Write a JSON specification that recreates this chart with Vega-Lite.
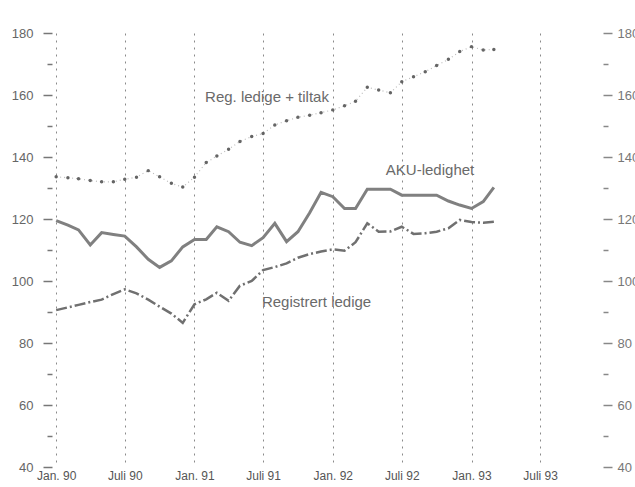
{
  "$schema": "https://vega.github.io/schema/vega-lite/v6.json",
  "autosize": {"type": "none"},
  "width": 551,
  "height": 434,
  "padding": {"left": 52, "top": 33, "right": 32, "bottom": 20},
  "background": "white",
  "config": {
    "view": {"stroke": null},
    "font": "Liberation Sans",
    "axis": {"labelFont": "Liberation Sans", "labelColor": "#555"}
  },
  "datasets": {
    "series": [
      {"d":"1990-01-01","s":"AKU","v":119.5},{"d":"1990-02-01","s":"AKU","v":118},{"d":"1990-03-01","s":"AKU","v":116.5},{"d":"1990-04-01","s":"AKU","v":111.6},{"d":"1990-05-01","s":"AKU","v":115.6},{"d":"1990-06-01","s":"AKU","v":115},{"d":"1990-07-01","s":"AKU","v":114.5},{"d":"1990-08-01","s":"AKU","v":111},{"d":"1990-09-01","s":"AKU","v":107},{"d":"1990-10-01","s":"AKU","v":104.4},{"d":"1990-11-01","s":"AKU","v":106.5},{"d":"1990-12-01","s":"AKU","v":111},
      {"d":"1991-01-01","s":"AKU","v":113.4},{"d":"1991-02-01","s":"AKU","v":113.4},{"d":"1991-03-01","s":"AKU","v":117.5},{"d":"1991-04-01","s":"AKU","v":115.9},{"d":"1991-05-01","s":"AKU","v":112.5},{"d":"1991-06-01","s":"AKU","v":111.4},{"d":"1991-07-01","s":"AKU","v":114},{"d":"1991-08-01","s":"AKU","v":118.6},{"d":"1991-09-01","s":"AKU","v":112.7},{"d":"1991-10-01","s":"AKU","v":115.9},{"d":"1991-11-01","s":"AKU","v":122},{"d":"1991-12-01","s":"AKU","v":128.6},
      {"d":"1992-01-01","s":"AKU","v":127.2},{"d":"1992-02-01","s":"AKU","v":123.4},{"d":"1992-03-01","s":"AKU","v":123.4},{"d":"1992-04-01","s":"AKU","v":129.6},{"d":"1992-05-01","s":"AKU","v":129.6},{"d":"1992-06-01","s":"AKU","v":129.6},{"d":"1992-07-01","s":"AKU","v":127.7},{"d":"1992-08-01","s":"AKU","v":127.7},{"d":"1992-09-01","s":"AKU","v":127.7},{"d":"1992-10-01","s":"AKU","v":127.7},{"d":"1992-11-01","s":"AKU","v":125.8},{"d":"1992-12-01","s":"AKU","v":124.5},
      {"d":"1993-01-01","s":"AKU","v":123.4},{"d":"1993-02-01","s":"AKU","v":125.6},{"d":"1993-03-01","s":"AKU","v":130.2},
      {"d":"1990-01-01","s":"Reg","v":90.6},{"d":"1990-02-01","s":"Reg","v":91.5},{"d":"1990-03-01","s":"Reg","v":92.3},{"d":"1990-04-01","s":"Reg","v":93.2},{"d":"1990-05-01","s":"Reg","v":94},{"d":"1990-06-01","s":"Reg","v":95.8},{"d":"1990-07-01","s":"Reg","v":97.3},{"d":"1990-08-01","s":"Reg","v":96},{"d":"1990-09-01","s":"Reg","v":94},{"d":"1990-10-01","s":"Reg","v":91.7},{"d":"1990-11-01","s":"Reg","v":89.5},{"d":"1990-12-01","s":"Reg","v":86.5},
      {"d":"1991-01-01","s":"Reg","v":92.5},{"d":"1991-02-01","s":"Reg","v":94.1},{"d":"1991-03-01","s":"Reg","v":96.2},{"d":"1991-04-01","s":"Reg","v":93.6},{"d":"1991-05-01","s":"Reg","v":98.5},{"d":"1991-06-01","s":"Reg","v":100},{"d":"1991-07-01","s":"Reg","v":103.5},{"d":"1991-08-01","s":"Reg","v":104.5},{"d":"1991-09-01","s":"Reg","v":105.7},{"d":"1991-10-01","s":"Reg","v":107.5},{"d":"1991-11-01","s":"Reg","v":108.7},{"d":"1991-12-01","s":"Reg","v":109.5},
      {"d":"1992-01-01","s":"Reg","v":110.2},{"d":"1992-02-01","s":"Reg","v":109.8},{"d":"1992-03-01","s":"Reg","v":112.5},{"d":"1992-04-01","s":"Reg","v":118.6},{"d":"1992-05-01","s":"Reg","v":115.9},{"d":"1992-06-01","s":"Reg","v":116},{"d":"1992-07-01","s":"Reg","v":117.5},{"d":"1992-08-01","s":"Reg","v":115.2},{"d":"1992-09-01","s":"Reg","v":115.4},{"d":"1992-10-01","s":"Reg","v":115.9},{"d":"1992-11-01","s":"Reg","v":117},{"d":"1992-12-01","s":"Reg","v":119.7},
      {"d":"1993-01-01","s":"Reg","v":119},{"d":"1993-02-01","s":"Reg","v":118.8},{"d":"1993-03-01","s":"Reg","v":119.1},
      {"d":"1990-01-01","s":"Tiltak","v":133.6},{"d":"1990-02-01","s":"Tiltak","v":133.3},{"d":"1990-03-01","s":"Tiltak","v":133},{"d":"1990-04-01","s":"Tiltak","v":132.4},{"d":"1990-05-01","s":"Tiltak","v":132},{"d":"1990-06-01","s":"Tiltak","v":132},{"d":"1990-07-01","s":"Tiltak","v":132.8},{"d":"1990-08-01","s":"Tiltak","v":133.5},{"d":"1990-09-01","s":"Tiltak","v":135.6},{"d":"1990-10-01","s":"Tiltak","v":133.6},{"d":"1990-11-01","s":"Tiltak","v":131.5},{"d":"1990-12-01","s":"Tiltak","v":130.3},
      {"d":"1991-01-01","s":"Tiltak","v":133.5},{"d":"1991-02-01","s":"Tiltak","v":138.2},{"d":"1991-03-01","s":"Tiltak","v":140.3},{"d":"1991-04-01","s":"Tiltak","v":142.5},{"d":"1991-05-01","s":"Tiltak","v":145},{"d":"1991-06-01","s":"Tiltak","v":146.6},{"d":"1991-07-01","s":"Tiltak","v":147.6},{"d":"1991-08-01","s":"Tiltak","v":150.3},{"d":"1991-09-01","s":"Tiltak","v":151.7},{"d":"1991-10-01","s":"Tiltak","v":152.8},{"d":"1991-11-01","s":"Tiltak","v":153.5},{"d":"1991-12-01","s":"Tiltak","v":154.3},
      {"d":"1992-01-01","s":"Tiltak","v":155.2},{"d":"1992-02-01","s":"Tiltak","v":156.5},{"d":"1992-03-01","s":"Tiltak","v":158},{"d":"1992-04-01","s":"Tiltak","v":162.5},{"d":"1992-05-01","s":"Tiltak","v":161.6},{"d":"1992-06-01","s":"Tiltak","v":160.7},{"d":"1992-07-01","s":"Tiltak","v":164.3},{"d":"1992-08-01","s":"Tiltak","v":165.9},{"d":"1992-09-01","s":"Tiltak","v":167.5},{"d":"1992-10-01","s":"Tiltak","v":169.5},{"d":"1992-11-01","s":"Tiltak","v":171.5},{"d":"1992-12-01","s":"Tiltak","v":174},
      {"d":"1993-01-01","s":"Tiltak","v":175.6},{"d":"1993-02-01","s":"Tiltak","v":174.5},{"d":"1993-03-01","s":"Tiltak","v":174.7}
    ],
    "labels": [
      {"d":"1991-01-29","v":159.2,"t":"Reg. ledige + tiltak"},
      {"d":"1992-05-20","v":135.8,"t":"AKU-ledighet"},
      {"d":"1991-06-28","v":93.2,"t":"Registrert ledige"}
    ]
  },
  "resolve": {"axis": {"y": "independent"}},
  "layer": [
    {
      "data": {"name": "series"},
      "transform": [{"filter": "datum.s === 'AKU'"}],
      "mark": {"type": "line", "color": "#808080", "strokeWidth": 3},
      "encoding": {
        "x": {"field": "d", "type": "temporal",
          "scale": {"type": "utc", "domain": [{"year": 1989, "month": 12, "date": 21, "utc": true}, {"year": 1993, "month": 12, "date": 14, "utc": true}]},
          "axis": {"title": null, "values": [{"year":1990,"month":1,"date":1,"utc":true},{"year":1990,"month":7,"date":1,"utc":true},{"year":1991,"month":1,"date":1,"utc":true},{"year":1991,"month":7,"date":1,"utc":true},{"year":1992,"month":1,"date":1,"utc":true},{"year":1992,"month":7,"date":1,"utc":true},{"year":1993,"month":1,"date":1,"utc":true},{"year":1993,"month":7,"date":1,"utc":true}],
            "labelExpr": "(utcmonth(datum.value) == 0 ? 'Jan. ' : 'Juli ') + utcFormat(datum.value, '%y')",
            "domain": false, "ticks": false, "labelPadding": 3, "labelFontSize": 12, "labelColor": "#555",
            "grid": true, "gridColor": "#8a8a8a", "gridDash": [2, 5], "gridWidth": 1}},
        "y": {"field": "v", "type": "quantitative", "scale": {"domain": [40, 180], "nice": false, "zero": false},
          "axis": {"title": null, "orient": "left", "values": [40,50,60,70,80,90,100,110,120,130,140,150,160,170,180],
            "labelExpr": "datum.value % 20 == 0 ? datum.label : ''",
            "domain": false, "grid": false, "tickColor": "#777", "tickWidth": 1.5,
            "tickSize": {"expr": "datum.value % 20 == 0 ? 9 : 5"},
            "labelPadding": 10, "labelFontSize": 13, "labelColor": "#666"}}
      }
    },
    {
      "data": {"name": "series"},
      "transform": [{"filter": "datum.s === 'Reg'"}],
      "mark": {"type": "line", "color": "#707070", "strokeWidth": 2.5, "strokeDash": [11, 3, 2, 3]},
      "encoding": {
        "x": {"field": "d", "type": "temporal"},
        "y": {"field": "v", "type": "quantitative",
          "axis": {"title": null, "orient": "right", "values": [40,50,60,70,80,90,100,110,120,130,140,150,160,170,180],
            "labelExpr": "datum.value % 20 == 0 ? datum.label : ''",
            "domain": false, "grid": false, "tickColor": "#888", "tickWidth": 1.5,
            "tickSize": {"expr": "datum.value % 20 == 0 ? 9 : 5"},
            "labelPadding": 5, "labelFontSize": 13, "labelColor": "#777"}}
      }
    },
    {
      "data": {"name": "series"},
      "transform": [{"filter": "datum.s === 'Tiltak'"}],
      "mark": {"type": "line", "color": "#bbbbbb", "strokeWidth": 1.2, "strokeDash": [1, 3]},
      "encoding": {
        "x": {"field": "d", "type": "temporal"},
        "y": {"field": "v", "type": "quantitative", "axis": null}
      }
    },
    {
      "data": {"name": "series"},
      "transform": [{"filter": "datum.s === 'Tiltak'"}],
      "mark": {"type": "point", "shape": "circle", "filled": true, "color": "#555", "size": 12, "opacity": 0.9},
      "encoding": {
        "x": {"field": "d", "type": "temporal"},
        "y": {"field": "v", "type": "quantitative", "axis": null}
      }
    },
    {
      "data": {"name": "labels"},
      "mark": {"type": "text", "align": "left", "baseline": "middle", "fontSize": 15, "color": "#6a6a6a", "font": "Liberation Sans"},
      "encoding": {
        "x": {"field": "d", "type": "temporal"},
        "y": {"field": "v", "type": "quantitative", "axis": null},
        "text": {"field": "t"}
      }
    }
  ]
}
